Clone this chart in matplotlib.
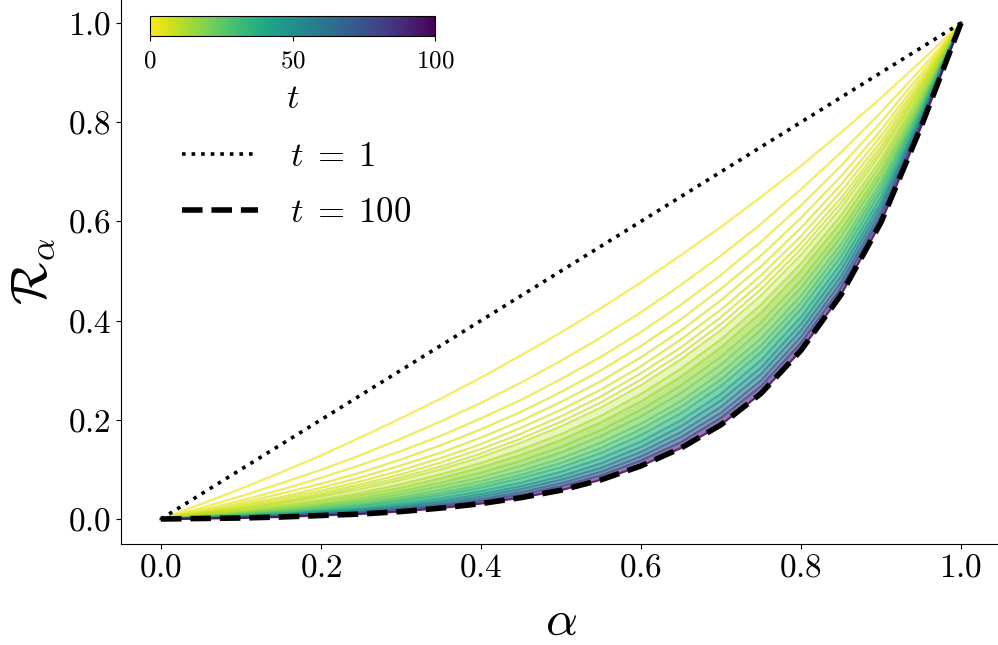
import numpy as np
import matplotlib
matplotlib.use('Agg')
import matplotlib.pyplot as plt
from matplotlib.colors import Normalize
from matplotlib.cm import ScalarMappable

plt.rcParams['font.family'] = 'serif'
plt.rcParams['font.serif'] = ['cmr10']
plt.rcParams['mathtext.fontset'] = 'cm'
plt.rcParams['axes.formatter.use_mathtext'] = True

alpha = [0.0, 0.05, 0.1, 0.15, 0.2, 0.25, 0.3, 0.35, 0.4, 0.45, 0.5, 0.55,
         0.6, 0.65, 0.7, 0.75, 0.8, 0.85, 0.9, 0.95, 0.975, 1.0]

# t = 1 is the diagonal
r_t1 = [0.0, 0.05, 0.1, 0.15, 0.2, 0.25, 0.3, 0.35, 0.4, 0.45, 0.5, 0.55,
        0.6, 0.65, 0.7, 0.75, 0.8, 0.85, 0.9, 0.95, 0.975, 1.0]

# R_alpha for a selection of t (inner points only, 0 and 1 added below)
r_t2 = [0.030, 0.061, 0.094, 0.128, 0.165, 0.203, 0.243, 0.285, 0.330, 0.376, 0.425, 0.477, 0.532, 0.589, 0.649, 0.712, 0.779, 0.849, 0.923, 0.961]
r_t3 = [0.022, 0.046, 0.072, 0.099, 0.129, 0.162, 0.197, 0.234, 0.275, 0.319, 0.366, 0.417, 0.472, 0.531, 0.595, 0.665, 0.739, 0.820, 0.907, 0.953]
r_t4 = [0.018, 0.037, 0.059, 0.083, 0.109, 0.137, 0.168, 0.203, 0.240, 0.282, 0.327, 0.377, 0.432, 0.492, 0.559, 0.632, 0.712, 0.800, 0.897, 0.948]
r_t5 = [0.015, 0.032, 0.051, 0.071, 0.094, 0.120, 0.149, 0.181, 0.216, 0.256, 0.300, 0.349, 0.403, 0.464, 0.531, 0.607, 0.691, 0.784, 0.889, 0.944]
r_t6 = [0.013, 0.028, 0.044, 0.063, 0.084, 0.108, 0.134, 0.164, 0.198, 0.236, 0.278, 0.326, 0.380, 0.441, 0.509, 0.587, 0.674, 0.772, 0.882, 0.941]
r_t7 = [0.012, 0.025, 0.040, 0.057, 0.076, 0.098, 0.123, 0.151, 0.184, 0.220, 0.261, 0.308, 0.362, 0.422, 0.491, 0.570, 0.660, 0.761, 0.877, 0.938]
r_t8 = [0.011, 0.022, 0.036, 0.052, 0.070, 0.090, 0.114, 0.141, 0.172, 0.207, 0.247, 0.294, 0.346, 0.407, 0.476, 0.556, 0.647, 0.752, 0.872, 0.936]
r_t9 = [0.010, 0.020, 0.033, 0.048, 0.065, 0.084, 0.106, 0.132, 0.162, 0.196, 0.235, 0.281, 0.333, 0.393, 0.463, 0.544, 0.637, 0.744, 0.868, 0.934]
r_t10 = [0.009, 0.019, 0.031, 0.045, 0.060, 0.079, 0.100, 0.125, 0.154, 0.187, 0.225, 0.270, 0.322, 0.381, 0.451, 0.533, 0.627, 0.737, 0.864, 0.932]
r_t12 = [0.008, 0.016, 0.027, 0.039, 0.053, 0.070, 0.090, 0.113, 0.140, 0.171, 0.208, 0.252, 0.303, 0.362, 0.432, 0.515, 0.612, 0.725, 0.858, 0.929]
r_t14 = [0.007, 0.014, 0.024, 0.035, 0.048, 0.063, 0.082, 0.104, 0.129, 0.159, 0.195, 0.237, 0.287, 0.346, 0.416, 0.500, 0.598, 0.715, 0.853, 0.926]
r_t17 = [0.006, 0.012, 0.021, 0.030, 0.042, 0.056, 0.073, 0.093, 0.117, 0.145, 0.179, 0.220, 0.269, 0.327, 0.396, 0.481, 0.582, 0.702, 0.846, 0.923]
r_t20 = [0.005, 0.011, 0.018, 0.027, 0.037, 0.050, 0.066, 0.084, 0.107, 0.134, 0.167, 0.207, 0.254, 0.311, 0.381, 0.466, 0.569, 0.692, 0.840, 0.920]
r_t24 = [0.004, 0.009, 0.016, 0.024, 0.033, 0.044, 0.059, 0.076, 0.097, 0.122, 0.154, 0.192, 0.238, 0.295, 0.364, 0.450, 0.554, 0.680, 0.834, 0.917]
r_t28 = [0.004, 0.008, 0.014, 0.021, 0.029, 0.040, 0.053, 0.069, 0.089, 0.113, 0.143, 0.181, 0.226, 0.281, 0.350, 0.436, 0.542, 0.671, 0.829, 0.915]
r_t33 = [0.003, 0.007, 0.012, 0.018, 0.026, 0.036, 0.048, 0.063, 0.082, 0.104, 0.133, 0.169, 0.213, 0.268, 0.336, 0.423, 0.529, 0.661, 0.824, 0.912]
r_t40 = [0.003, 0.006, 0.010, 0.016, 0.022, 0.031, 0.042, 0.056, 0.073, 0.095, 0.122, 0.156, 0.199, 0.252, 0.320, 0.407, 0.515, 0.649, 0.818, 0.909]
r_t48 = [0.002, 0.005, 0.009, 0.014, 0.019, 0.027, 0.037, 0.050, 0.066, 0.086, 0.112, 0.145, 0.187, 0.239, 0.305, 0.393, 0.502, 0.638, 0.812, 0.906]
r_t57 = [0.002, 0.004, 0.007, 0.012, 0.017, 0.024, 0.033, 0.045, 0.060, 0.079, 0.103, 0.135, 0.175, 0.226, 0.292, 0.380, 0.489, 0.629, 0.807, 0.903]
r_t68 = [0.002, 0.003, 0.006, 0.010, 0.014, 0.021, 0.029, 0.040, 0.054, 0.072, 0.095, 0.126, 0.165, 0.214, 0.279, 0.367, 0.477, 0.619, 0.801, 0.901]
r_t80 = [0.001, 0.003, 0.005, 0.009, 0.012, 0.018, 0.026, 0.036, 0.049, 0.066, 0.088, 0.118, 0.155, 0.204, 0.268, 0.355, 0.466, 0.610, 0.797, 0.898]
r_t100 = [0.001, 0.002, 0.004, 0.007, 0.010, 0.015, 0.022, 0.031, 0.043, 0.058, 0.079, 0.107, 0.143, 0.190, 0.253, 0.340, 0.452, 0.598, 0.790, 0.895]

t_values = [2, 3, 4, 5, 6, 7, 8, 9, 10, 12, 14, 17, 20, 24, 28, 33, 40, 48, 57, 68, 80, 100]
curves = [r_t2, r_t3, r_t4, r_t5, r_t6, r_t7, r_t8, r_t9, r_t10, r_t12, r_t14, r_t17,
          r_t20, r_t24, r_t28, r_t33, r_t40, r_t48, r_t57, r_t68, r_t80, r_t100]
curves = [[0.0] + c + [1.0] for c in curves]

cmap = plt.get_cmap('viridis_r')
norm = Normalize(vmin=0, vmax=100)

fig = plt.figure(figsize=(9.98, 6.45), dpi=100)
ax = fig.add_axes([0.1212, 0.1569, 0.8818, 0.8459])

# dense part of the family: shade between neighbouring curves,
# lighter where the lines are still a bit apart
for i in range(len(t_values) - 1):
    if t_values[i] < 10:
        continue
    shade = {10: 0.3, 12: 0.45}.get(t_values[i], 0.6)
    t_mid = 0.5 * (t_values[i] + t_values[i + 1])
    ax.fill_between(alpha, curves[i], curves[i + 1], color=cmap(norm(t_mid)),
                    alpha=shade, linewidth=0)

for t, c in zip(t_values, curves):
    ax.plot(alpha, c, color=cmap(norm(t)), lw=1.6, alpha=0.7)

ax.plot(alpha, r_t1, color='black', ls=':', lw=2.6, label=r'$t\;=\;1$')
ax.plot(alpha, curves[-1], color='black', ls='--', lw=4, label=r'$t\;=\;100$')

ax.set_xlim(-0.05, 1.05)
ax.set_ylim(-0.05, 1.05)
ax.set_xticks([0.0, 0.2, 0.4, 0.6, 0.8, 1.0])
ax.set_yticks([0.0, 0.2, 0.4, 0.6, 0.8, 1.0])
ax.tick_params(labelsize=24)
ax.spines['top'].set_visible(False)
ax.spines['right'].set_visible(False)
ax.set_xlabel(r'$\alpha$', fontsize=36, labelpad=12)
ax.set_ylabel(r'$\mathcal{R}_\alpha$', fontsize=36, labelpad=8)

ax.legend(loc='upper left', bbox_to_anchor=(0.1824, 0.781), bbox_transform=fig.transFigure,
          frameon=False, fontsize=25, borderpad=0, borderaxespad=0,
          handlelength=2.2, handletextpad=0.9, labelspacing=0.7)

cax = fig.add_axes([0.1503, 0.9447, 0.2856, 0.031])
cb = fig.colorbar(ScalarMappable(norm=norm, cmap=cmap), cax=cax, orientation='horizontal')
cb.set_ticks([0, 50, 100])
cb.ax.tick_params(labelsize=18, pad=7)
cb.set_label('$t$', fontsize=25, labelpad=8)

fig.savefig('out.png', dpi=100)
